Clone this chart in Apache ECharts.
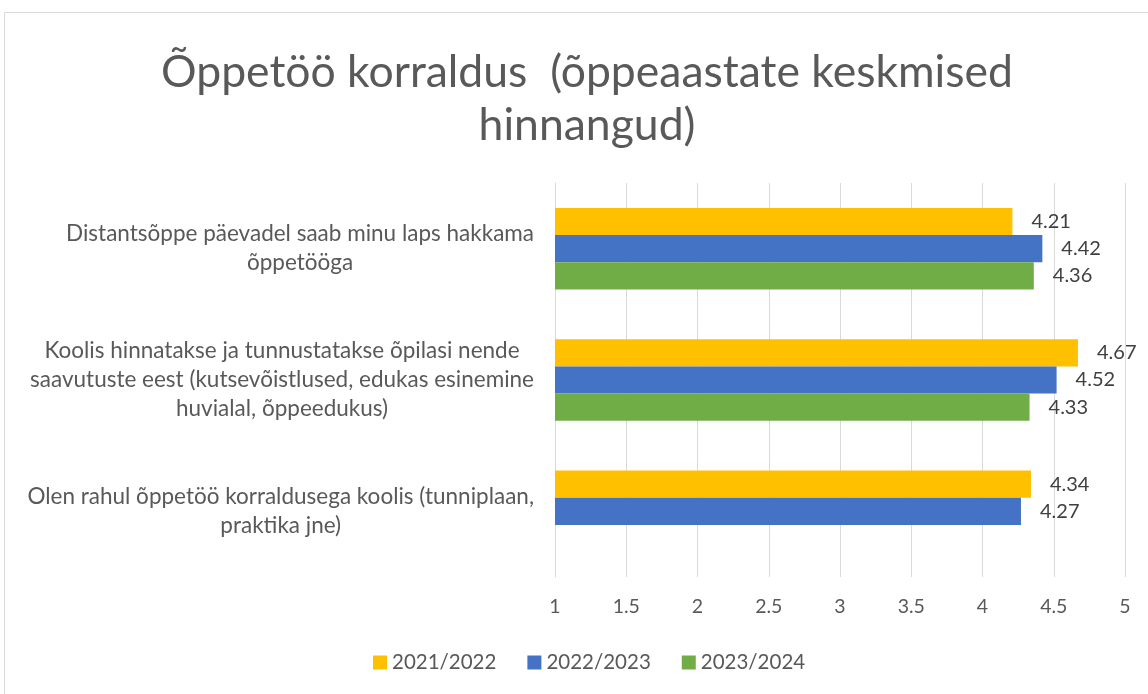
<!DOCTYPE html>
<html>
<head>
<meta charset="utf-8">
<script src="https://cdn.jsdelivr.net/npm/echarts@6/dist/echarts.min.js"></script>
<style>
html,body{margin:0;padding:0;background:#fff;}
#chart{width:1148px;height:694px;}
</style>
</head>
<body>
<div id="chart"></div>
<script>
var categories = [
	'Distantsõppe päevadel saab minu laps hakkama\nõppetööga',
	'Koolis hinnatakse ja tunnustatakse õpilasi nende\nsaavutuste eest (kutsevõistlused, edukas esinemine\nhuvialal, õppeedukus)',
	'Olen rahul õppetöö korraldusega koolis (tunniplaan,\npraktika jne)'
];
var years = ['2021/2022', '2022/2023', '2023/2024'];
var y2122 = [4.21, 4.67, 4.34];
var y2223 = [4.42, 4.52, 4.27];
var y2324 = [4.36, 4.33, null];
var colors = ['#FFC000', '#4472C4', '#70AD47'];
var fnt = 'Lato';

var myChart = echarts.init(document.getElementById('chart'));

function bar(name, data){
	return {
		name: name,
		type: 'bar',
		data: data,
		barGap: '0%',
		barCategoryGap: '38%',
		label: {
			show: true,
			position: 'right',
			distance: 19,
			color: '#404040',
			fontFamily: fnt,
			fontSize: 20,
			formatter: function(p){ return p.value.toFixed(2); }
		}
	};
}

var option = {
	animation: false,
	color: colors,
	title: {
		text: 'Õppetöö korraldus  (õppeaastate keskmised\nhinnangud)',
		left: 582,
		top: 41,
		textAlign: 'center',
		textStyle: {
			color: '#595959',
			fontFamily: fnt,
			fontWeight: 'normal',
			fontSize: 44.5,
			lineHeight: 53
		}
	},
	legend: {
		bottom: 21,
		left: 373,
		padding: 0,
		itemWidth: 14,
		itemHeight: 14,
		itemGap: 31,
		icon: 'rect',
		textStyle: {color: '#595959', fontFamily: fnt, fontSize: 20.5}
	},
	graphic: [{
		type: 'rect',
		shape: {x: 4.5, y: 12.5, width: 1200, height: 800},
		style: {fill: 'none', stroke: '#d9d9d9', lineWidth: 1}
	}],
	grid: {left: 555, right: 23, top: 183, bottom: 117},
	xAxis: {
		type: 'value',
		min: 1,
		max: 5,
		interval: 0.5,
		axisLine: {show: false},
		axisTick: {show: false},
		axisLabel: {color: '#595959', fontFamily: fnt, fontSize: 19.5, margin: 20},
		splitLine: {lineStyle: {color: '#d9d9d9', width: 1}}
	},
	yAxis: {
		type: 'category',
		inverse: true,
		data: categories,
		axisLine: {lineStyle: {color: '#d9d9d9'}},
		axisTick: {show: false},
		axisLabel: {
			align: 'right',
			margin: 21,
			formatter: function(v){
				return v.split('\n').map(function(s){ return '{c|' + s + '}'; }).join('\n');
			},
			rich: {
				c: {
					align: 'center',
					color: '#595959',
					fontFamily: fnt,
					fontSize: 22.5,
					lineHeight: 29
				}
			}
		}
	},
	series: [bar(years[0], y2122), bar(years[1], y2223), bar(years[2], y2324)]
};
myChart.setOption(option);
</script>
</body>
</html>
